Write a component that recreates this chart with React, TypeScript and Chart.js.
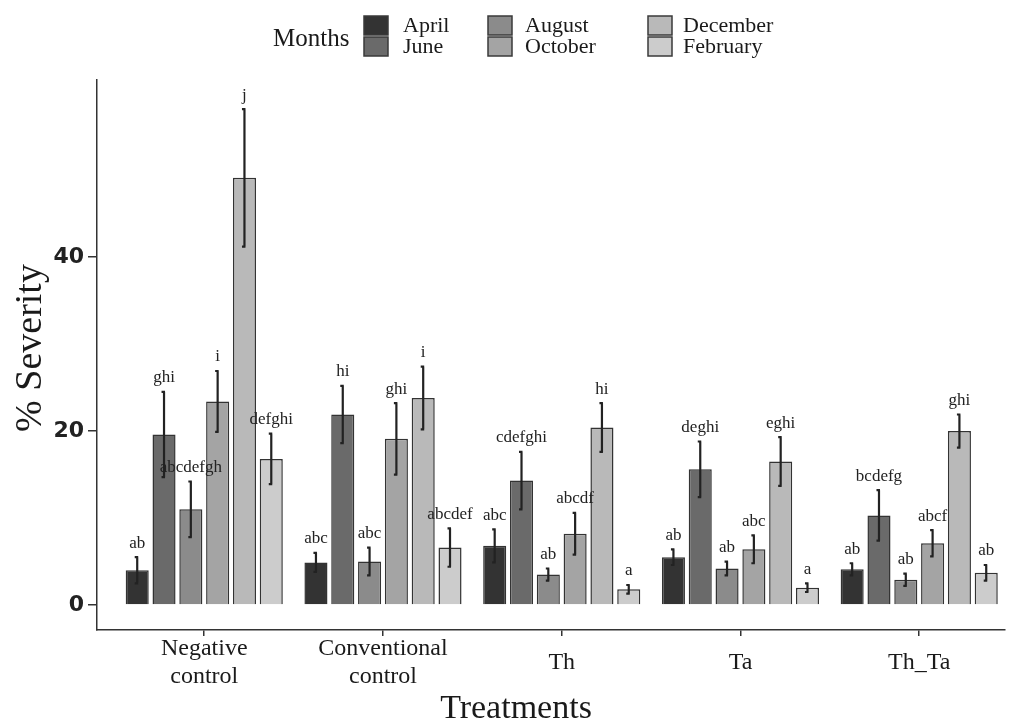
import { useEffect, useRef } from "react";
import { Chart, registerables } from "chart.js";

Chart.register(...registerables);

const treatments: string[][] = [
  ["Negative", "control"],
  ["Conventional", "control"],
  ["Th"],
  ["Ta"],
  ["Th_Ta"],
];
const months = ["April", "June", "August", "October", "December", "February"];

const april = [4.0, 4.9, 6.8, 5.5, 4.1];
const june = [19.6, 21.9, 14.3, 15.6, 10.3];
const august = [11.0, 5.0, 3.5, 4.2, 2.9];
const october = [23.4, 19.1, 8.2, 6.4, 7.1];
const december = [49.1, 23.8, 20.4, 16.5, 20.0];
const february = [16.8, 6.6, 1.8, 2.0, 3.7];

const aprilErr = [1.5, 1.1, 1.9, 0.9, 0.7];
const juneErr = [4.9, 3.3, 3.3, 3.2, 2.9];
const augustErr = [3.2, 1.6, 0.7, 0.8, 0.7];
const octoberErr = [3.5, 4.1, 2.4, 1.6, 1.5];
const decemberErr = [7.9, 3.6, 2.8, 2.8, 1.9];
const februaryErr = [2.9, 2.2, 0.5, 0.5, 0.9];

const aprilLetters = ["ab", "abc", "abc", "ab", "ab"];
const juneLetters = ["ghi", "hi", "cdefghi", "deghi", "bcdefg"];
const augustLetters = ["abcdefgh", "abc", "ab", "ab", "ab"];
const octoberLetters = ["i", "ghi", "abcdf", "abc", "abcf"];
const decemberLetters = ["j", "i", "hi", "eghi", "ghi"];
const februaryLetters = ["defghi", "abcdef", "a", "a", "ab"];

const yTicks = [0, 20, 40];

const seriesValues = [april, june, august, october, december, february];
const seriesErrors = [aprilErr, juneErr, augustErr, octoberErr, decemberErr, februaryErr];
const seriesLetters = [aprilLetters, juneLetters, augustLetters, octoberLetters, decemberLetters, februaryLetters];
const fills = ["#333333", "#6a6a6a", "#8b8b8b", "#a4a4a4", "#b9b9b9", "#cccccc"];

const SERIF = '"Liberation Serif", "Times New Roman", serif';

const overlay = {
  id: "overlay",
  afterDatasetsDraw(chart: any) {
    const ctx = chart.ctx;
    const ys = chart.scales.y;
    ctx.save();
    chart.data.datasets.forEach((_ds: any, di: number) => {
      const meta = chart.getDatasetMeta(di);
      meta.data.forEach((bar: any, i: number) => {
        const v = seriesValues[di][i];
        const e = seriesErrors[di][i];
        const top = ys.getPixelForValue(v + e);
        const bot = ys.getPixelForValue(v - e);
        ctx.strokeStyle = "#222222";
        ctx.lineWidth = 2.2;
        ctx.beginPath();
        ctx.moveTo(bar.x, top);
        ctx.lineTo(bar.x, bot);
        ctx.moveTo(bar.x - 2.5, top);
        ctx.lineTo(bar.x + 1, top);
        ctx.moveTo(bar.x - 2.5, bot);
        ctx.lineTo(bar.x + 1, bot);
        ctx.stroke();
        ctx.fillStyle = "#222";
        ctx.font = `17px ${SERIF}`;
        ctx.textAlign = "center";
        ctx.textBaseline = "middle";
        ctx.fillText(seriesLetters[di][i], bar.x, top - 14);
      });
    });
    ctx.restore();
  },
  afterDraw(chart: any) {
    const ctx = chart.ctx;
    const xs = chart.scales.x;
    ctx.save();
    ctx.fillStyle = "#1a1a1a";
    ctx.font = `24px ${SERIF}`;
    ctx.textAlign = "center";
    ctx.textBaseline = "middle";
    const lh = 28;
    treatments.forEach((lines, i) => {
      const cx = xs.getPixelForValue(i);
      const start = 663 - ((lines.length - 1) * lh) / 2;
      lines.forEach((ln, k) => ctx.fillText(ln, cx, start + k * lh));
    });
    ctx.font = `34px ${SERIF}`;
    ctx.fillText("Treatments", 516, 709);
    ctx.save();
    ctx.translate(31, 348);
    ctx.rotate(-Math.PI / 2);
    ctx.font = `38px ${SERIF}`;
    ctx.fillText("% Severity", 0, 0);
    ctx.restore();
    ctx.textAlign = "left";
    ctx.font = `25px ${SERIF}`;
    ctx.fillText("Months", 273, 39);
    const boxX = [364, 488, 648];
    const textX = [403, 525, 683];
    const rowY = [16, 37];
    ctx.font = `22px ${SERIF}`;
    months.forEach((m, k) => {
      const col = Math.floor(k / 2);
      const row = k % 2;
      ctx.fillStyle = fills[k];
      ctx.fillRect(boxX[col], rowY[row], 24, 19);
      ctx.strokeStyle = "#3a3a3a";
      ctx.lineWidth = 1.5;
      ctx.strokeRect(boxX[col], rowY[row], 24, 19);
      ctx.fillStyle = "#1a1a1a";
      ctx.fillText(m, textX[col], rowY[row] + 10);
    });
    ctx.restore();
  },
};

export default function App() {
  const ref = useRef<HTMLCanvasElement>(null);
  useEffect(() => {
    document.body.style.margin = "0";
    const canvas = ref.current;
    if (!canvas) return;
    const chart = new Chart(canvas, {
      type: "bar",
      data: {
        datasets: months.map((m, k) => ({
          label: m,
          data: seriesValues[k].map((v, i) => ({ x: i, y: v })),
          backgroundColor: fills[k],
          borderColor: "#333333",
          borderWidth: 1.5,
          categoryPercentage: 0.9,
          barPercentage: 0.86,
        })),
      },
      options: {
        animation: false,
        responsive: false,
        devicePixelRatio: 1,
        layout: { padding: { top: 80, right: 6, left: 0, bottom: 0 } },
        plugins: {
          legend: { display: false },
          tooltip: { enabled: false },
          title: { display: false },
        },
        scales: {
          x: {
            type: "linear",
            offset: false,
            min: -0.6,
            max: 4.48,
            afterBuildTicks: (s: any) => {
              s.ticks = treatments.map((_t, i) => ({ value: i }));
            },
            afterFit: (s: any) => {
              s.height = 94;
            },
            ticks: { callback: () => "", padding: 0 },
            grid: {
              display: true,
              drawOnChartArea: false,
              drawTicks: true,
              tickLength: 6,
              color: "#333333",
              lineWidth: 1.5,
              offset: false,
            },
            border: { display: true, color: "#333333", width: 1.5 },
          },
          y: {
            type: "linear",
            min: -2.87,
            max: 60.35,
            afterBuildTicks: (s: any) => {
              s.ticks = yTicks.map((v) => ({ value: v }));
            },
            afterFit: (s: any) => {
              s.width = 97;
            },
            ticks: {
              color: "#222222",
              padding: 4,
              font: { family: '"DejaVu Sans", sans-serif', size: 22, weight: "bold" },
            },
            grid: {
              display: true,
              drawOnChartArea: false,
              drawTicks: true,
              tickLength: 9,
              color: "#333333",
              lineWidth: 1.5,
            },
            border: { display: true, color: "#333333", width: 1.5 },
          },
        },
      },
      plugins: [overlay],
    } as any);
    return () => chart.destroy();
  }, []);
  return (
    <div style={{ width: 1011, height: 724, background: "#fff" }}>
      <canvas ref={ref} width={1011} height={724} style={{ display: "block" }} />
    </div>
  );
}
